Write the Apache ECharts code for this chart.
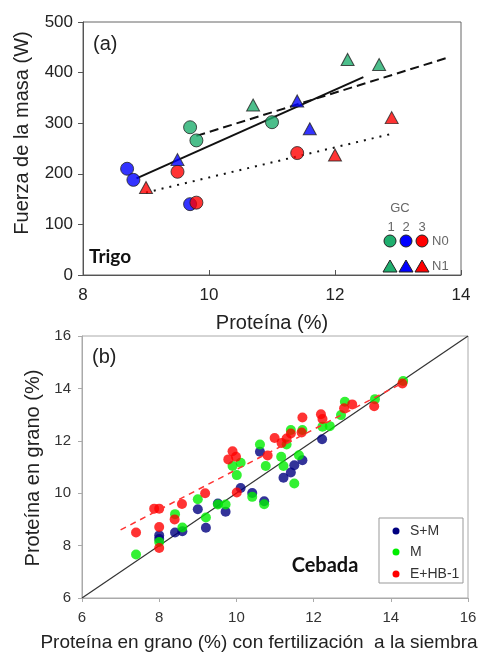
<!DOCTYPE html>
<html><head><meta charset="utf-8">
<script src="https://cdn.jsdelivr.net/npm/echarts@6/dist/echarts.min.js"></script>
<style>html,body{margin:0;padding:0;background:#fff}#c{width:483px;height:652px}</style>
</head><body><div id="c"></div>
<script>
// ---- Panel (a): Trigo ----
const aTicksX = [8, 10, 12, 14];
const aTicksY = [0, 100, 200, 300, 400, 500];
const a_GC1_N0 = [[9.7,292],[9.8,266],[11.0,302]];
const a_GC2_N0 = [[8.7,210],[8.8,188],[9.7,140]];
const a_GC3_N0 = [[9.5,204],[9.8,143],[11.4,241]];
const a_GC1_N1 = [[10.7,336],[12.2,426],[12.7,416]];
const a_GC2_N1 = [[9.5,228],[11.4,344],[11.6,289]];
const a_GC3_N1 = [[9.0,173],[12.0,237],[12.9,311]];
const a_trendSolid = [[8.85,191],[12.45,391]];
const a_trendDashed = [[9.8,275],[13.8,430]];
const a_trendDotted = [[9.0,163],[12.9,279]];

// ---- Panel (b): Cebada ----
const bTicks = [6, 8, 10, 12, 14, 16];
const b_SM = [[8.0,8.39],[8.0,8.25],[8.41,8.5],[8.6,8.55],[9.0,9.39],[9.21,8.68],[9.52,9.61],[9.72,9.29],[10.11,10.2],[10.41,10.01],[10.61,11.58],[10.72,9.69],[11.22,10.59],[11.41,10.79],[11.5,11.07],[11.71,11.26],[12.22,12.06]];
const b_M = [[7.4,7.66],[8.0,8.14],[8.41,9.2],[8.6,8.69],[9.0,9.77],[9.21,9.07],[9.52,9.57],[9.72,9.57],[9.9,11.04],[10.01,10.69],[10.11,11.16],[10.41,9.86],[10.61,11.86],[10.72,9.58],[10.76,11.04],[11.16,11.39],[11.22,11.04],[11.3,11.86],[11.41,12.41],[11.5,10.37],[11.62,11.45],[11.71,12.41],[12.23,12.54],[12.42,12.56],[12.71,12.98],[12.81,13.49],[13.59,13.59],[14.32,14.28]];
const b_EHB = [[7.4,8.5],[7.87,9.41],[8.0,9.41],[8.0,8.71],[8.0,7.91],[8.4,9.0],[8.59,9.59],[9.19,10.0],[9.79,11.29],[9.9,11.6],[9.99,11.39],[10.01,10.03],[10.81,11.44],[10.99,12.11],[11.17,11.92],[11.3,12.09],[11.41,12.28],[11.71,12.89],[11.69,12.32],[12.19,13.01],[12.23,12.83],[12.79,13.24],[13.0,13.39],[13.57,13.32],[14.3,14.19]];
const b_trend = [[7.0,8.6],[14.3,14.2]];
const b_identity = [[6,6],[16,16]];

const FONT = '"Liberation Sans", Arial, sans-serif';
const GREEN = '#1fae6e', BLUE = '#0000ff', RED = '#ff0000';

const chart = echarts.init(document.getElementById('c'));

function ptsA(data, color, symbol){
  return {type:'scatter', xAxisIndex:0, yAxisIndex:0, data:data, symbol:symbol,
    symbolSize: symbol==='triangle'?[13,12]:13, z:5,
    itemStyle:{color:color, borderColor:'#222', borderWidth:1}};
}
function lineA(data, type){
  return {type:'line', xAxisIndex:0, yAxisIndex:0, data:data, symbol:'none', z:3,
    lineStyle:{color:'#111', width:2, type:type}};
}
function ptsB(data, color){
  return {type:'scatter', xAxisIndex:1, yAxisIndex:1, data:data, symbol:'circle', symbolSize:10, z:5,
    itemStyle:{color:color}};
}

const option = {
  backgroundColor:'#fff',
  animation:false,
  grid:[
    {left:83, top:22, width:378, height:253, show:true, borderColor:'#666', borderWidth:1, backgroundColor:'transparent'},
    {left:82, top:336, width:386, height:262, show:true, borderColor:'#aaa', borderWidth:1, backgroundColor:'transparent'}
  ],
  xAxis:[
    {gridIndex:0, type:'value', min:aTicksX[0], max:aTicksX[aTicksX.length-1], interval:2,
      axisLine:{lineStyle:{color:'#555'}}, axisTick:{inside:true, length:5, lineStyle:{color:'#555'}},
      splitLine:{show:false}, axisLabel:{fontSize:17, color:'#222', fontFamily:FONT, margin:12}},
    {gridIndex:1, type:'value', min:bTicks[0], max:bTicks[bTicks.length-1], interval:2,
      axisLine:{lineStyle:{color:'#aaa'}}, axisTick:{length:4, lineStyle:{color:'#aaa'}},
      splitLine:{show:false}, axisLabel:{fontSize:15, color:'#333', fontFamily:FONT, margin:12}}
  ],
  yAxis:[
    {gridIndex:0, type:'value', min:aTicksY[0], max:aTicksY[aTicksY.length-1], interval:100,
      axisLine:{show:true, lineStyle:{color:'#555'}}, axisTick:{show:true, length:5, lineStyle:{color:'#555'}},
      splitLine:{show:false}, axisLabel:{fontSize:17, color:'#222', fontFamily:FONT, margin:10}},
    {gridIndex:1, type:'value', min:bTicks[0], max:bTicks[bTicks.length-1], interval:2,
      axisLine:{show:true, lineStyle:{color:'#aaa'}}, axisTick:{show:true, length:4, lineStyle:{color:'#aaa'}},
      splitLine:{show:false}, axisLabel:{fontSize:15, color:'#333', fontFamily:FONT, margin:11}}
  ],
  series:[
    lineA(a_trendSolid,'solid'),
    lineA(a_trendDashed,[9,5]),
    lineA(a_trendDotted,[2,6]),
    ptsA(a_GC1_N0, GREEN, 'circle'),
    ptsA(a_GC2_N0, BLUE, 'circle'),
    ptsA(a_GC3_N0, RED, 'circle'),
    ptsA(a_GC1_N1, GREEN, 'triangle'),
    ptsA(a_GC2_N1, BLUE, 'triangle'),
    ptsA(a_GC3_N1, RED, 'triangle'),
    {type:'line', xAxisIndex:1, yAxisIndex:1, data:b_identity, symbol:'none', z:2,
      lineStyle:{color:'#333', width:1.2}},
    ptsB(b_SM, '#000080'),
    ptsB(b_M, '#00ee00'),
    ptsB(b_EHB, '#ff0000'),
    {type:'line', xAxisIndex:1, yAxisIndex:1, data:b_trend, symbol:'none', z:6,
      lineStyle:{color:'#ff3333', width:1.5, type:[6,5]}}
  ],
  graphic:[
    // panel a texts
    {type:'text', x:93, y:34, style:{text:'(a)', font:'20px '+FONT, fill:'#222'}},
    {type:'text', x:110, y:257, style:{text:'Trigo', font:'bold 19px Lato, sans-serif', fill:'#111', align:'center', verticalAlign:'middle'}},
    {type:'text', x:272, y:323, style:{text:'Proteína (%)', font:'20px '+FONT, fill:'#222', align:'center', verticalAlign:'middle'}},
    {type:'text', x:22, y:133, rotation:Math.PI/2, style:{text:'Fuerza de la masa (W)', font:'20px '+FONT, fill:'#222', align:'center', verticalAlign:'middle'}},
    // legend a
    {type:'text', x:400, y:208, style:{text:'GC', font:'13px '+FONT, fill:'#666', align:'center', verticalAlign:'middle'}},
    {type:'text', x:391, y:227, style:{text:'1', font:'13px '+FONT, fill:'#666', align:'center', verticalAlign:'middle'}},
    {type:'text', x:406, y:227, style:{text:'2', font:'13px '+FONT, fill:'#666', align:'center', verticalAlign:'middle'}},
    {type:'text', x:422, y:227, style:{text:'3', font:'13px '+FONT, fill:'#666', align:'center', verticalAlign:'middle'}},
    {type:'circle', shape:{cx:390, cy:241, r:6}, style:{fill:GREEN, stroke:'#222', lineWidth:1}},
    {type:'circle', shape:{cx:406, cy:241, r:6}, style:{fill:BLUE, stroke:'#222', lineWidth:1}},
    {type:'circle', shape:{cx:422, cy:241, r:6}, style:{fill:RED, stroke:'#222', lineWidth:1}},
    {type:'polygon', shape:{points:[[390,260],[383,272],[397,272]]}, style:{fill:GREEN, stroke:'#222', lineWidth:1}},
    {type:'polygon', shape:{points:[[406,260],[399,272],[413,272]]}, style:{fill:BLUE, stroke:'#222', lineWidth:1}},
    {type:'polygon', shape:{points:[[422,260],[415,272],[429,272]]}, style:{fill:RED, stroke:'#222', lineWidth:1}},
    {type:'text', x:432, y:241, style:{text:'N0', font:'13px '+FONT, fill:'#666', verticalAlign:'middle'}},
    {type:'text', x:432, y:266, style:{text:'N1', font:'13px '+FONT, fill:'#666', verticalAlign:'middle'}},
    // panel b texts
    {type:'text', x:92, y:347, style:{text:'(b)', font:'20px '+FONT, fill:'#222'}},
    {type:'text', x:325, y:566, style:{text:'Cebada', font:'bold 20px Lato, sans-serif', fill:'#111', align:'center', verticalAlign:'middle'}},
    {type:'text', x:33, y:468, rotation:Math.PI/2, style:{text:'Proteína en grano (%)', font:'20px '+FONT, fill:'#222', align:'center', verticalAlign:'middle'}},
    {type:'text', x:259, y:643, style:{text:'Proteína en grano (%) con fertilización  a la siembra', font:'19px '+FONT, fill:'#222', align:'center', verticalAlign:'middle'}},
    // legend b
    {type:'rect', shape:{x:379, y:518, width:84, height:65}, style:{fill:'#fff', stroke:'#999', lineWidth:1}, z:10},
    {type:'circle', shape:{cx:396, cy:531, r:3.5}, style:{fill:'#000080'}, z:11},
    {type:'circle', shape:{cx:396, cy:552, r:3.5}, style:{fill:'#00ee00'}, z:11},
    {type:'circle', shape:{cx:396, cy:574, r:3.5}, style:{fill:'#ff0000'}, z:11},
    {type:'text', x:410, y:531, z:11, style:{text:'S+M', font:'14px '+FONT, fill:'#333', verticalAlign:'middle'}},
    {type:'text', x:410, y:552, z:11, style:{text:'M', font:'14px '+FONT, fill:'#333', verticalAlign:'middle'}},
    {type:'text', x:410, y:574, z:11, style:{text:'E+HB-1', font:'14px '+FONT, fill:'#333', verticalAlign:'middle'}}
  ]
};
chart.setOption(option);
</script>
</body></html>
